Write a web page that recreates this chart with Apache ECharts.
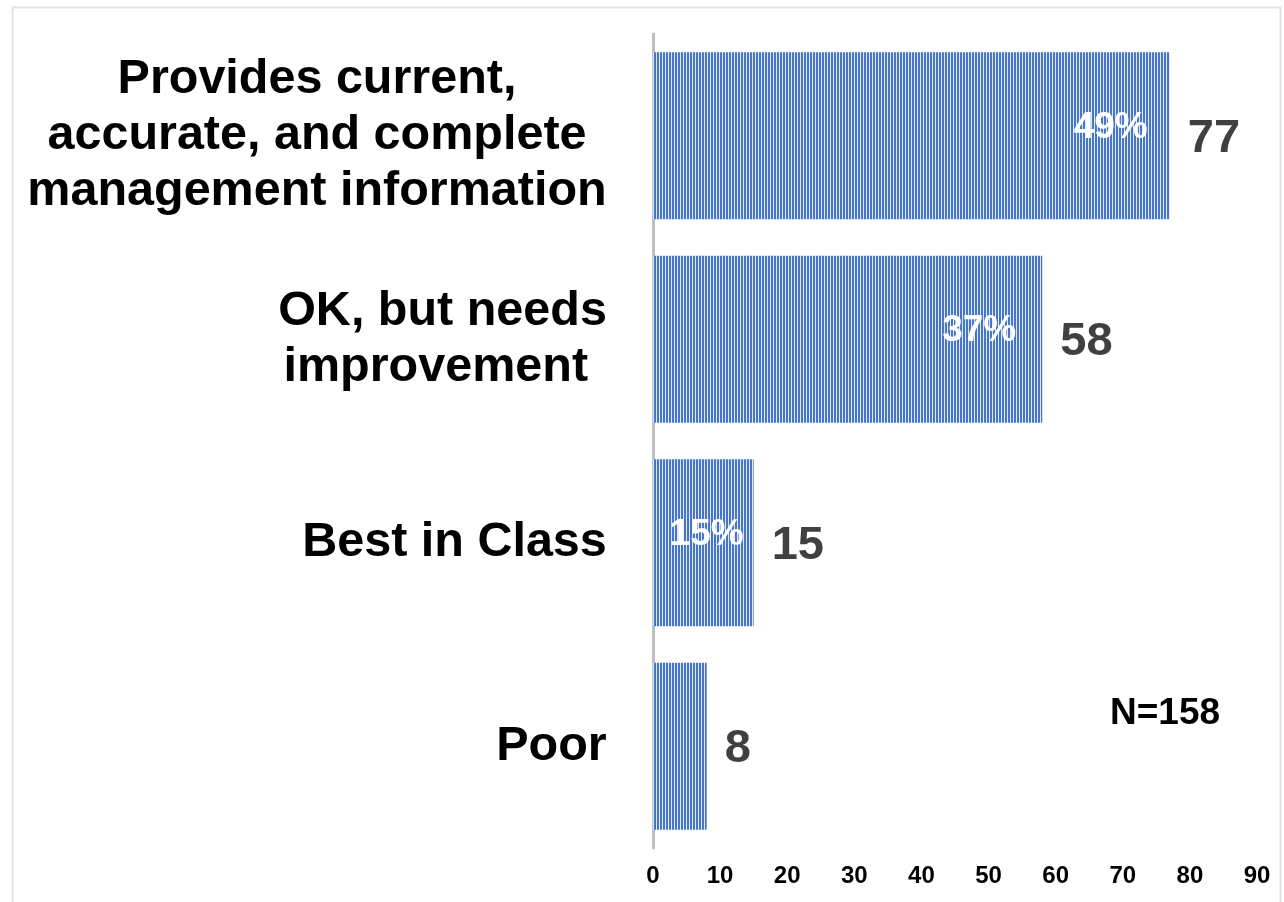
<!DOCTYPE html>
<html>
<head>
<meta charset="utf-8">
<title>Management information rating</title>
<script src="https://cdn.jsdelivr.net/npm/echarts@6/dist/echarts.min.js"></script>
<style>
  html, body { margin: 0; padding: 0; background: #ffffff; }
  #chart { width: 1284px; height: 902px; }
</style>
</head>
<body>
<div id="chart"></div>
<script>
// Survey responses: how well the system provides management information
const categories = [
  'Provides current,\naccurate, and complete\nmanagement information',
  'OK, but needs\nimprovement ',
  'Best in Class',
  'Poor'
];
const counts = [77, 58, 15, 8];
const shareLabels = ['49%', '37%', '15%', ''];
const xTicks = { min: 0, max: 90, interval: 10 };

const FONT = '"Liberation Sans", Arial, sans-serif';
const sampleSize = counts.reduce((a, b) => a + b, 0);

// how far each share label sits in from the end of its bar
const shareInset = [22, 26, 10, 0];

// vertical-stripe fill for the bars
function stripePattern() {
  const c = document.createElement('canvas');
  c.width = 3; c.height = 4;
  const ctx = c.getContext('2d');
  ctx.fillStyle = '#4676ca';
  ctx.fillRect(0, 0, 3, 4);
  ctx.fillStyle = '#e2e9f7';
  ctx.fillRect(2, 0, 1, 4);
  return { image: c, repeat: 'repeat' };
}

// measure each category's widest line so multi-line labels can be centred as a block
const CAT_FONT_SIZE = 48.5;
const measureCtx = document.createElement('canvas').getContext('2d');
measureCtx.font = 'bold ' + CAT_FONT_SIZE + 'px ' + FONT;
const catRich = {};
categories.forEach((cat, i) => {
  const w = Math.max(...cat.split('\n').map(l => measureCtx.measureText(l).width));
  catRich['c' + i] = {
    width: Math.ceil(w) + 2,
    align: 'center',
    fontSize: CAT_FONT_SIZE,
    fontWeight: 'bold',
    lineHeight: 56,
    color: '#000000',
    fontFamily: FONT
  };
});

const chart = echarts.init(document.getElementById('chart'), null, { renderer: 'canvas' });

chart.setOption({
  animation: false,
  backgroundColor: '#ffffff',
  grid: { left: 653, right: 27, top: 34, bottom: 54, containLabel: false },
  xAxis: {
    type: 'value',
    min: xTicks.min,
    max: xTicks.max,
    interval: xTicks.interval,
    axisLine: { show: false },
    axisTick: { show: false },
    splitLine: { show: false },
    axisLabel: {
      margin: 16,
      fontSize: 24,
      fontWeight: 'bold',
      color: '#000000',
      fontFamily: FONT
    }
  },
  yAxis: {
    type: 'category',
    inverse: true,
    data: categories,
    axisLine: { show: true, lineStyle: { color: '#bfbfbf', width: 3 } },
    axisTick: { show: false },
    axisLabel: {
      margin: 45,
      formatter: (value, idx) => value.split('\n').map(l => '{c' + idx + '|' + l + '}').join('\n'),
      rich: catRich
    }
  },
  series: [
    {
      name: 'Responses',
      type: 'bar',
      data: counts,
      barWidth: 167,
      itemStyle: { color: stripePattern() },
      label: {
        show: true,
        position: 'right',
        distance: 18,
        offset: [0, 3],
        fontSize: 47,
        fontWeight: 'bold',
        color: '#404040',
        fontFamily: FONT
      },
      z: 2
    },
    {
      name: 'Share',
      type: 'bar',
      data: counts.map((v, i) => ({ value: v, label: { distance: shareInset[i] } })),
      barWidth: 167,
      barGap: '-100%',
      itemStyle: { color: 'rgba(0,0,0,0)' },
      label: {
        show: true,
        position: 'insideRight',
        offset: [0, -8],
        fontSize: 37,
        fontWeight: 'bold',
        color: '#ffffff',
        fontFamily: FONT,
        formatter: p => shareLabels[p.dataIndex]
      },
      z: 3
    }
  ],
  graphic: [
    {
      type: 'rect',
      left: 10, top: 5,
      shape: { width: 1268, height: 900 },
      style: { fill: 'none', stroke: '#e3e3e3', lineWidth: 2 },
      silent: true
    },
    {
      type: 'text',
      left: 1110,
      top: 695,
      style: {
        text: 'N=' + sampleSize,
        fontSize: 37,
        fontWeight: 'bold',
        fill: '#000000',
        fontFamily: FONT
      }
    }
  ]
});
</script>
</body>
</html>
